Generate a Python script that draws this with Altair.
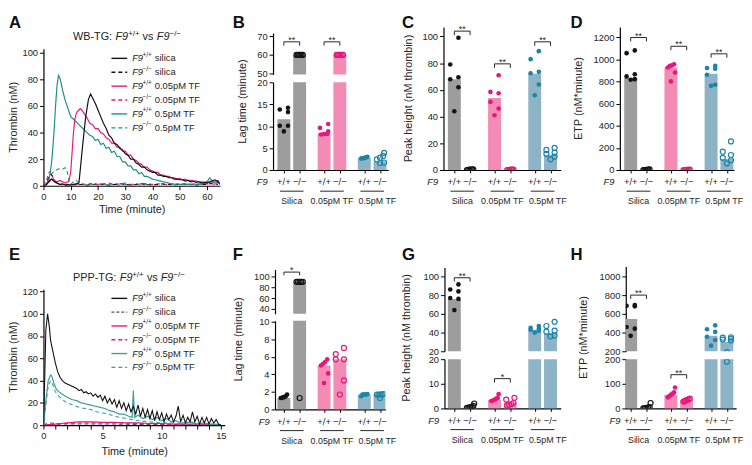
import altair as alt
import pandas as pd

FONT = "Liberation Sans, Arial, Helvetica, sans-serif"
NARROW = "Liberation Sans Narrow, Arial Narrow, Liberation Sans, sans-serif"
TXT = "#262626"

# ---------------- categories / colours ----------------
groups = ["Silica", "0.05pM TF", "0.5pM TF"]
genotypes = ["+/+", "\u2212/\u2212"]
dot_colors = ["#141414", "#e5177d", "#1d84a6"]
bar_colors = ["#9d9d9d", "#f28cb5", "#8db3c7"]
line_black = "#111111"
line_pink = "#e8177f"
line_teal = "#1d8f8b"
line_teal_e = "#3a9d98"
line_gray = "#555555"

# ---------------- A: WB-TG thrombin curves ----------------
A_black_t = [0, 1, 2, 3, 4, 5, 6, 7, 8, 9, 10, 11, 12, 13, 13.5, 14.5, 15.5, 16.5, 17.3,
             18, 19, 20, 21, 22, 23, 24, 25, 26, 27, 28, 29, 30, 31, 32, 33, 34, 35, 36, 37,
             38, 39, 40, 41, 42, 43, 44, 45, 46, 47, 48, 49, 50, 51, 52, 53, 54, 55, 56, 57,
             58, 59, 60, 61, 62, 63, 64, 65]
A_black_v = [0, 0.5, 3, 5, 3, 2, 1, 1.5, 0.5, 1, 0.5, 1, 1.5, 2, 12, 33, 52, 65, 69,
             66, 62, 57, 52, 47, 43, 38, 36, 32, 31, 28, 27, 24, 23, 20, 20, 17, 16, 14, 14,
             12, 11, 10, 10, 8, 8, 7, 7, 6, 6, 5, 5, 4.5, 4.5, 3.5, 4, 3, 3.5, 2.5, 3,
             2, 2.5, 2, 3, 4, 4.5, 3, 0.5]
A_pink_t = [0, 1, 2, 3, 4, 5, 6, 7, 8, 9, 9.5, 10, 10.5, 11, 11.5, 12, 12.5, 13, 13.5, 14,
            15, 16, 17, 18, 19, 20, 21, 22, 23, 24, 25, 26, 27, 28, 29, 30, 31, 32, 33, 34,
            35, 36, 37, 38, 39, 40, 41, 42, 43, 44, 45, 46, 47, 48, 49, 50, 51, 52, 53, 54,
            55, 56, 57, 58, 59, 60, 61, 62, 63, 64, 65]
A_pink_v = [0, 1, 4, 5, 4, 3, 4, 3, 2, 3, 5, 10, 25, 40, 50, 54, 56, 57, 58, 57,
            54, 51, 47, 46, 43, 43, 40, 39, 36, 35, 32, 32, 29, 29, 26, 26, 23, 23, 20, 19,
            17, 16, 14, 14, 12, 11, 10, 10, 8, 8, 7, 7, 6, 6, 5, 5.5, 4.5, 5, 4, 4,
            3.5, 3.5, 3, 3, 2.5, 3, 2.5, 3, 3.5, 4, 1]
A_teal_t = [0, 1, 2, 2.5, 3, 3.5, 4, 4.5, 5, 5.5, 6, 6.5, 7,
            8, 9, 10, 11, 12, 13, 14, 15, 16, 17, 18, 19, 20, 21, 22, 23, 24, 25, 26, 27,
            28, 29, 30, 31, 32, 33, 34, 35, 36, 37, 38, 39, 40, 41, 42, 43, 44, 45, 46, 47,
            48, 49, 50, 51, 52, 53, 54, 55, 56, 57, 58, 59, 60, 61, 62, 63, 64, 65]
A_teal_v = [0, 1, 5, 10, 18, 30, 45, 62, 76, 83, 81, 77, 72,
            64, 58, 52, 50, 48, 46, 44, 42, 40, 38, 37, 34, 35, 31, 32, 28, 29, 25, 26, 22,
            22, 18, 18, 15, 15, 12, 12, 9, 10, 7, 7, 6, 5, 4.5, 4, 3.5, 3, 2.5, 2, 1.5,
            1, 1.5, 1, 1, 1.5, 1, 1, 1.5, 1, 1.5, 1, 2, 3, 6, 3, 2, 2.5, 2]
A_blackdash_t = [0, 1, 1.5, 2, 2.5, 3, 3.5, 4, 5, 6, 8, 10, 12, 14, 16, 18, 20, 22, 24, 26,
                 28, 30, 32, 34, 36, 38, 40, 42, 44, 46, 48, 50, 52, 54, 56, 58, 60, 62, 64]
A_blackdash_v = [0, 1, 4, 7, 9, 8, 6, 4, 2, 1, 0.5, 1, 0.5, 1, 0.5, 1, 1.5, 1, 0.5, 1,
                 1.5, 1, 0.5, 1, 1.5, 1, 0.5, 1, 1.5, 1, 0.5, 1, 1.5, 1, 0.5, 1, 1, 2, 1]
A_pinkdash_t = [0, 1, 1.5, 2, 2.5, 3, 3.5, 4, 5, 6, 7, 8, 10, 12, 14, 16, 18, 20, 22, 24,
                26, 28, 30, 32, 34, 36, 38, 40, 42, 44, 46, 48, 50, 55, 60, 64]
A_pinkdash_v = [0, 3, 7, 10, 11, 9, 6, 4, 2, 1.5, 1, 1, 0.5, 1, 1.5, 1, 2, 1, 1.5, 2,
                1, 1.5, 2, 1, 1.5, 1, 2, 1, 1.5, 1, 1, 1.5, 1, 1, 1.5, 1]
A_tealdash_t = [0, 1, 2, 3, 4, 5, 6, 7, 8, 8.5, 9, 9.5, 10, 11, 12, 13, 14, 16, 18, 20,
                22, 24, 26, 28, 30, 32, 34, 36, 38, 40]
A_tealdash_v = [0, 1, 5, 9, 11, 12, 13, 12.5, 13.5, 12, 8, 3, 1, 3, 4, 2, 1, 0.5, 1, 0.5,
                1, 0.5, 1, 0.5, 1, 0.5, 1, 0.5, 1, 0.5]

# ---------------- E: PPP-TG thrombin curves ----------------
E_black_t = [0, 0.1, 0.2, 0.35, 0.5, 0.6, 0.8,
             1.0, 1.2, 1.4, 1.6, 1.8, 2.0, 2.2, 2.4, 2.6, 2.8, 3.0, 3.2, 3.4, 3.6, 3.8,
             4.0, 4.2, 4.4, 4.6, 4.8, 5.0, 5.2, 5.4, 5.6, 5.8, 6.0, 6.2, 6.4, 6.6, 6.8,
             7.0, 7.2, 7.4, 7.6, 7.8, 8.0, 8.2, 8.4, 8.6, 8.8, 9.0, 9.2, 9.4, 9.6, 9.8,
             10.0, 10.2, 10.4, 10.6, 10.8, 11.0, 11.2, 11.4, 11.6, 11.8, 12.0, 12.2, 12.4,
             12.6, 12.8, 13.0, 13.2, 13.4, 13.6, 13.8, 14.0, 14.2, 14.4, 14.6, 14.8, 15.0]
E_black_v = [0, 40, 85, 100, 88, 76, 66,
             56, 48, 43, 40, 38, 37, 36, 35, 34, 33, 31, 32, 29, 30, 28,
             29, 26, 28, 25, 27, 22, 26, 20, 24, 19, 23, 16, 22, 15, 20,
             13, 19, 12, 17, 10, 18, 8, 15, 7, 14, 6, 13, 4, 12, 5,
             11, 3, 10, 5, 9, 3, 8, 17, 3, 9, 2, 7, 3,
             12, 3, 8, 1, 7, 2, 7, 1, 6, 2, 5, 1, 0]
E_teal_t = [0, 0.2, 0.4, 0.6, 0.7, 0.9, 1.1, 1.4, 1.7, 2.0, 2.4, 2.8, 3.2, 3.6, 4.0, 4.4,
            4.8, 5.2, 5.6, 6.0, 6.4, 6.8, 7.2, 7.5, 7.6, 7.7, 8.0, 8.4, 8.8, 9.2, 9.6, 10.0,
            10.4, 10.8, 11.2, 11.6, 12.0, 12.5, 13.0, 13.5, 14.0, 14.5, 15.0]
E_teal_v = [0, 22, 40, 45, 44, 37, 32, 29, 27, 25, 23, 22, 20, 19, 18, 17,
            16, 15, 13, 12, 10, 10, 8, 7, 31, 7, 9, 6, 8, 5, 7, 4,
            6, 3, 4, 2, 2, 3, 1, 2, 1, 1, 0]
E_tealdash_t = [0, 0.2, 0.4, 0.6, 0.8, 1.0, 1.3, 1.6, 2.0, 2.5, 3.0, 3.5, 4.0, 4.5, 5.0,
                5.5, 6.0, 6.5, 7.0, 7.5, 8.0, 9.0, 10.0, 11.0, 12.0, 13.0, 14.0, 15.0]
E_tealdash_v = [0, 18, 35, 40, 36, 30, 26, 23, 20, 18, 16, 15, 14, 12, 11,
                10, 8, 7, 6, 5, 4, 3, 2, 2, 1, 1, 1, 0]
E_pink_t = [0, 0.5, 1, 1.5, 2, 2.5, 3, 3.5, 4, 5, 6, 7, 8, 9, 10, 11, 12, 13, 14, 15]
E_pink_v = [0, 0.5, 1, 1.5, 2, 2.5, 3, 3, 3, 2.5, 2.5, 2, 2, 1.5, 1.5, 1, 1, 1, 0.5, 0.5]
E_pinkdash_t = [0, 1, 2, 3, 4, 5, 6, 8, 10, 12, 15]
E_pinkdash_v = [0, 0.5, 1.5, 2, 2, 2, 2, 1.5, 1, 0.5, 0.5]
E_blackdash_t = [0, 0.3, 0.6, 1, 2, 3, 4, 5, 6, 8, 10, 12, 15]
E_blackdash_v = [0, 1.5, 2, 1.5, 1, 1, 1, 1, 1, 0.5, 0.5, 0.5, 0.5]

# ---------------- bar panels (order: Silica +/+, Silica -/-, 0.05 +/+, 0.05 -/-, 0.5 +/+, 0.5 -/-) ----
B_bar = [11.6, 60, 8.3, 60, 2.8, 2.0]
B_dots = [[14.2, 13.8, 13.2, 10.1, 10.1, 8.8], [60, 60, 60, 60, 60, 60],
          [10.5, 9.6, 8.8, 8.2, 8.2, 8.1], [60, 60, 60, 60, 60, 60],
          [3.0, 2.9, 2.8, 2.7, 2.7, 2.6], [3.9, 3.2, 2.8, 2.4, 1.7, 1.6]]
C_bar = [68, 0, 54, 0, 72, 11.5]
C_dots = [[99, 79, 69.5, 68, 62, 44], [0.5, 0.3, 0.2, 0.2, 0.1, 0],
          [71, 58.5, 57.5, 51, 46, 41], [0.3, 0.2, 0.2, 0.1, 0.1, 0],
          [89, 83, 73.5, 72.5, 64, 56], [16.5, 15, 13, 12, 10, 8]]
D_bar = [830, 0, 925, 0, 870, 100]
D_dots = [[1080, 1055, 865, 845, 820, 815], [5, 3, 2, 1, 0, 0],
          [955, 945, 940, 925, 880, 800], [3, 2, 1, 1, 0, 0],
          [940, 920, 915, 860, 770, 760], [258, 165, 135, 110, 88, 60]]
F_bar = [1.3, 90, 5.0, 5.7, 1.7, 1.7]
F_dots = [[1.7, 1.5, 1.4, 1.4, 1.3, 1.3], [90, 90, 90, 90, 90, 1.3],
          [5.7, 5.4, 5.2, 5.0, 4.1, 3.0], [7.0, 6.3, 5.7, 5.7, 3.3, 1.7],
          [1.75, 1.7, 1.7, 1.7, 1.7, 1.5], [1.75, 1.7, 1.7, 1.7, 1.7, 1.3]]
G_bar = [76, 0.5, 3.5, 2.3, 43, 39]
G_dots = [[91.5, 86, 84, 77, 76, 64], [2.0, 1.0, 0.6, 0.4, 0.3, 0.2],
          [5.8, 4.2, 4.0, 3.5, 3.2, 3.0], [4.3, 3.6, 2.2, 1.8, 1.5, 1.2],
          [47, 45, 44, 43, 42, 40], [51.5, 47, 42, 41, 37, 36]]
H_bar = [545, 3, 55, 33, 365, 300]
H_dots = [[695, 685, 680, 460, 442, 365], [22, 5, 3, 2, 1, 0],
          [85, 65, 60, 55, 50, 45], [40, 37, 35, 33, 30, 28],
          [477, 435, 407, 355, 320, 260], [350, 345, 335, 325, 315, 190]]

# ---------------- helpers ----------------
ONE = pd.DataFrame({"k": [0]})
PX = 16.0
GROUP_STEP = 2.55
HALF_BAR = 0.41
JITTER = [0.26, -0.26, 0.26, -0.26, 0.26, 0.0]
SPREAD = 0.2


def pos(g, j):
    return g * GROUP_STEP + j


TICK_POS = [pos(g, j) for g in range(3) for j in range(2)]


def offsets(vals, tol):
    """horizontal scatter of the dots inside one bar: tight clusters are spread evenly"""
    offs = [JITTER[i % len(JITTER)] for i in range(len(vals))]
    order = sorted(range(len(vals)), key=lambda i: vals[i])
    clusters, cur = [], [order[0]]
    for i in order[1:]:
        if abs(vals[i] - vals[cur[-1]]) <= tol:
            cur.append(i)
        else:
            clusters.append(cur)
            cur = [i]
    clusters.append(cur)
    for cl in clusters:
        n = len(cl)
        if n >= 3:
            for r, i in enumerate(cl):
                offs[i] = -SPREAD + 2 * SPREAD * r / (n - 1)
    return offs


def text_chart(s, x, y, size=9.5, style="normal", weight="normal", font=FONT,
               align="left", baseline="alphabetic", angle=0, color=TXT):
    mk = dict(text=s, fontSize=size, fontStyle=style, fontWeight=weight, font=font,
              align=align, baseline=baseline, color=color)
    if angle:
        mk["angle"] = angle
    return alt.Chart(ONE).mark_text(**mk).encode(x=alt.value(x), y=alt.value(y))


def letter(s, x, y):
    return text_chart(s, x, y, size=17, weight="bold", baseline="top", color="#111111")


def ytitle(s, x, y):
    return text_chart(s, x, y, size=11, font=NARROW, align="center", baseline="middle", angle=270)


def frame_rect(x1, x2, y1, y2):
    return alt.Chart(ONE).mark_rect(opacity=0).encode(
        x=alt.value(x1), x2=alt.value(x2), y=alt.value(y1), y2=alt.value(y2))


def bar_part(bars, dots, lo, hi, width, height, offset, yticks, frame, tol,
             brackets=(), drop=1.0, bottom=False, extra=()):
    xsc = alt.Scale(domain=[-offset / PX, (width - offset) / PX], nice=False, zero=False)
    ysc = alt.Scale(domain=[lo, hi], nice=False, zero=False)
    if bottom:
        xaxis = alt.Axis(values=TICK_POS, labels=False, ticks=True, tickSize=3,
                         domain=True, grid=False, title=None)
    else:
        xaxis = None
    yaxis = alt.Axis(values=yticks, title=None, grid=False, tickSize=4, labelPadding=2, format="d")
    X = alt.X("x:Q", scale=xsc, axis=xaxis)
    Y = alt.Y("y:Q", scale=ysc, axis=yaxis)

    brows = []
    for k, v in enumerate(bars):
        g, j = divmod(k, 2)
        p = pos(g, j)
        brows.append({"x": p - HALF_BAR, "x2": p + HALF_BAR, "y": v, "y0": 0.0, "c": bar_colors[g]})
    drows = []
    for k, vals in enumerate(dots):
        g, j = divmod(k, 2)
        offs = offsets(vals, tol)
        for i, v in enumerate(vals):
            drows.append({"x": pos(g, j) + offs[i], "y": v, "c": dot_colors[g], "geno": j})
    ddf = pd.DataFrame(drows)

    layers = [frame_rect(*frame)]
    layers.append(alt.Chart(pd.DataFrame(brows)).mark_bar(clip=True).encode(
        x=X, x2="x2:Q", y=Y, y2="y0:Q", color=alt.Color("c:N", scale=None)))
    layers.append(alt.Chart(ddf[ddf.geno == 0]).mark_circle(size=22, opacity=1, clip=True).encode(
        x=X, y=Y, color=alt.Color("c:N", scale=None)))
    layers.append(alt.Chart(ddf[ddf.geno == 1]).mark_point(
        filled=False, size=26, strokeWidth=1.2, opacity=1, clip=True).encode(
        x=X, y=Y, color=alt.Color("c:N", scale=None)))

    if brackets:
        rows, stars = [], []
        for b, (g, level, s) in enumerate(brackets):
            xa, xb = pos(g, 0), pos(g, 1)
            pts = [(xa, level - drop), (xa, level), (xb, level), (xb, level - drop)]
            for o, (x, y) in enumerate(pts):
                rows.append({"x": x, "y": y, "id": b, "o": o})
            stars.append({"x": (xa + xb) / 2, "y": level, "s": s})
        layers.append(alt.Chart(pd.DataFrame(rows)).mark_line(color=TXT, strokeWidth=1).encode(
            x=X, y=Y, detail="id:N", order="o:Q"))
        layers.append(alt.Chart(pd.DataFrame(stars)).mark_text(
            fontSize=9, baseline="alphabetic", dy=1, color=TXT, font=FONT).encode(
            x=X, y=Y, text="s:N"))

    if bottom:
        gl = pd.DataFrame({"x": TICK_POS, "t": genotypes * 3})
        layers.append(alt.Chart(gl).mark_text(fontSize=9.5, baseline="middle", color=TXT, font=FONT).encode(
            x=X, y=alt.value(height + 12.5), text="t:N"))
        layers.append(text_chart("F9", -11, height + 12.5, style="italic", align="center", baseline="middle"))
        ul = pd.DataFrame({"x": [pos(g, 0) - 0.25 for g in range(3)],
                           "x2": [pos(g, 1) + 0.25 for g in range(3)]})
        layers.append(alt.Chart(ul).mark_rule(color=TXT, strokeWidth=1).encode(
            x=X, x2="x2:Q", y=alt.value(height + 21.5)))
        label_shift = [0.0, 0.0, 0.33]
        gdf = pd.DataFrame({"x": [(pos(g, 0) + pos(g, 1)) / 2 + label_shift[g] for g in range(3)],
                            "t": groups})
        layers.append(alt.Chart(gdf).mark_text(fontSize=9, baseline="middle", color=TXT, font=FONT).encode(
            x=X, y=alt.value(height + 32), text="t:N"))
    layers.extend(extra)
    return alt.layer(*layers).properties(width=width, height=height)


def ts_panel(curves, xdom, ydom, width, height, xvals, yvals, xlabel_expr, xtitle_pad,
             legend, legend_y0, legend_step, title_pieces, title_y, frame, extra):
    xsc = alt.Scale(domain=xdom, nice=False, zero=False)
    ysc = alt.Scale(domain=ydom, nice=False, zero=False)
    xaxis_kw = dict(values=xvals, title="Time (minute)", grid=False, tickSize=4,
                    titlePadding=xtitle_pad, labelPadding=2, labelFlush=False, format="d")
    if xlabel_expr:
        xaxis_kw["labelExpr"] = xlabel_expr
    xaxis = alt.Axis(**xaxis_kw)
    yaxis = alt.Axis(values=yvals, title=None, grid=False, tickSize=4, labelPadding=2, format="d")
    layers = [frame_rect(*frame)]
    for t, v, color, dash, sw in curves:
        mk = dict(color=color, strokeWidth=sw, clip=True)
        if dash:
            mk["strokeDash"] = dash
        layers.append(alt.Chart(pd.DataFrame({"t": t, "v": v})).mark_line(**mk).encode(
            x=alt.X("t:Q", scale=xsc, axis=xaxis), y=alt.Y("v:Q", scale=ysc, axis=yaxis)))
    for i, (sup, rest, color, dash) in enumerate(legend):
        y = legend_y0 + i * legend_step
        rk = dict(color=color, strokeWidth=1.4)
        if dash:
            rk["strokeDash"] = dash
        layers.append(alt.Chart(ONE).mark_rule(**rk).encode(
            x=alt.value(69), x2=alt.value(85), y=alt.value(y)))
        layers.append(text_chart("F9", 90, y, size=9.5, style="italic", baseline="middle"))
        layers.append(text_chart(sup, 100.5, y - 3.5, size=6.5, baseline="middle"))
        layers.append(text_chart(rest, 113, y, size=9.5, baseline="middle"))
    for s, x, size, style, dy in title_pieces:
        layers.append(text_chart(s, x, title_y + dy, size=size, style=style, color="#222222"))
    layers.extend(extra)
    return alt.layer(*layers).properties(width=width, height=height)


def cell(width, header_h, fx, bodies, spacing):
    """panel column: an invisible header fixes where the plot starts below the row top"""
    header = frame_rect(fx[0], fx[1], 0, header_h).properties(width=width, height=header_h)
    return alt.vconcat(header, *bodies, spacing=spacing, bounds="flush")


PLUS = "+/+"
MINUS = "\u2212/\u2212"
DASH = [4, 3]

# ---------------- Row 1 (row top = page y 8) ----------------
A = ts_panel(
    curves=[(A_tealdash_t, A_tealdash_v, line_teal, DASH, 1.1),
            (A_pinkdash_t, A_pinkdash_v, line_pink, DASH, 1.1),
            (A_blackdash_t, A_blackdash_v, line_black, DASH, 1.1),
            (A_teal_t, A_teal_v, line_teal, None, 1.2),
            (A_pink_t, A_pink_v, line_pink, None, 1.2),
            (A_black_t, A_black_v, line_black, None, 1.2)],
    xdom=[0, 64.7], ydom=[0, 103], width=179, height=139,
    xvals=[0, 10, 20, 30, 40, 50, 60], yvals=[0, 20, 40, 60, 80, 100],
    xlabel_expr=None, xtitle_pad=3,
    legend=[(PLUS, "silica", line_black, None), (MINUS, "silica", line_black, DASH),
            (PLUS, "0.05pM TF", line_pink, None), (MINUS, "0.05pM TF", line_pink, DASH),
            (PLUS, "0.5pM TF", line_teal, None), (MINUS, "0.5pM TF", line_teal, DASH)],
    legend_y0=9.7, legend_step=14.1,
    title_pieces=[("WB-TG:", 30, 11, "normal", 0), ("F9", 73, 11, "italic", 0),
                  (PLUS, 86, 8, "normal", -4), ("vs", 100.5, 11, "normal", 0),
                  ("F9", 115, 11, "italic", 0), (MINUS, 128, 8, "normal", -4)],
    title_y=-9, frame=(-35, 189, 0, 194),
    extra=[letter("A", -35, -34), ytitle("Thrombin (nM)", -29.5, 69.5)])

B_top = bar_part(B_bar, B_dots, 49.6, 71.7, 117, 42, 11, [50, 60, 70], frame=(-44, 128, 0, 42),
                 tol=0.6, brackets=[(0, 67, "**"), (1, 67, "**")], drop=2.0,
                 extra=[letter("B", -41, -18)])
B_bot = bar_part(B_bar, B_dots, 0, 20, 117, 89, 11, [0, 5, 10, 15, 20], frame=(-44, 128, 0, 160),
                 tol=0.6, bottom=True, extra=[ytitle("Lag time (minute)", -30, 19.5)])

C = bar_part(C_bar, C_dots, 0, 107, 119, 145, 11, [0, 20, 40, 60, 80, 100], frame=(-45, 125, 0, 216),
             tol=1.5, brackets=[(0, 104, "**"), (1, 79.5, "**"), (2, 96, "**")], drop=3, bottom=True,
             extra=[letter("C", -42, -12), ytitle("Peak height (nM thrombin)", -35, 72.5)])

D = bar_part(D_bar, D_dots, 0, 1290, 116, 145, 11, [0, 200, 400, 600, 800, 1000, 1200],
             frame=(-53, 125, 0, 216), tol=15,
             brackets=[(0, 1196, "**"), (1, 1117, "**"), (2, 1049, "**")], drop=35, bottom=True,
             extra=[letter("D", -50, -12), ytitle("ETP (nM*minute)", -41, 72.5)])

# ---------------- Row 2 (row top = page y 240) ----------------
E = ts_panel(
    curves=[(E_blackdash_t, E_blackdash_v, line_gray, DASH, 1.1),
            (E_pinkdash_t, E_pinkdash_v, line_pink, DASH, 1.1),
            (E_pink_t, E_pink_v, line_pink, None, 1.2),
            (E_tealdash_t, E_tealdash_v, line_teal_e, DASH, 1.1),
            (E_teal_t, E_teal_v, line_teal_e, None, 1.2),
            (E_black_t, E_black_v, line_black, None, 1.1)],
    xdom=[0, 15.33], ydom=[0, 122], width=184, height=138,
    xvals=list(range(16)), yvals=[0, 20, 40, 60, 80, 100, 120],
    xlabel_expr="datum.value % 5 === 0 ? datum.label : ''", xtitle_pad=5,
    legend=[(PLUS, "silica", line_black, None), (MINUS, "silica", line_gray, [3, 2]),
            (PLUS, "0.05pM TF", line_pink, None), (MINUS, "0.05pM TF", line_pink, DASH),
            (PLUS, "0.5pM TF", line_teal_e, None), (MINUS, "0.5pM TF", line_teal_e, DASH)],
    legend_y0=9.3, legend_step=14,
    title_pieces=[("PPP-TG:", 30, 11, "normal", 0), ("F9", 77.5, 11, "italic", 0),
                  (PLUS, 90, 8, "normal", -4), ("vs", 105, 11, "normal", 0),
                  ("F9", 119, 11, "italic", 0), (MINUS, 132, 8, "normal", -4)],
    title_y=-8, frame=(-35, 189, 0, 175),
    extra=[letter("E", -35, -43), ytitle("Thrombin (nM)", -29.5, 69)])

F_top = bar_part(F_bar, F_dots, 31, 112.8, 112, 45, 9, [40, 60, 80, 100], frame=(-46, 126, 0, 45),
                 tol=0.3, brackets=[(0, 108, "*")], drop=6, extra=[letter("F", -43, -23)])
F_bot = bar_part(F_bar, F_dots, 0, 10.1, 112, 90, 9, [0, 2, 4, 6, 8, 10], frame=(-46, 126, 0, 143),
                 tol=0.3, bottom=True, extra=[ytitle("Lag time (minute)", -37, 19)])

G_top = bar_part(G_bar, G_dots, 20, 109.5, 118, 85, 10, [20, 40, 60, 80, 100], frame=(-46, 124, 0, 85),
                 tol=0.8, brackets=[(0, 98.6, "**")], drop=4, extra=[letter("G", -43, -21)])
G_bot = bar_part(G_bar, G_dots, 0, 20, 118, 50, 10, [0, 10, 20], frame=(-46, 124, 0, 104),
                 tol=0.8, brackets=[(1, 12.1, "*")], drop=1.6, bottom=True,
                 extra=[ytitle("Peak height (nM thrombin)", -38, -21.5)])

H_top = bar_part(H_bar, H_dots, 200, 1105, 112, 86, 5, [200, 400, 600, 800, 1000],
                 frame=(-59, 119, 0, 86), tol=6, brackets=[(0, 800, "**")], drop=40,
                 extra=[letter("H", -56, -20)])
H_bot = bar_part(H_bar, H_dots, 0, 200, 112, 50, 5, [0, 100, 200], frame=(-59, 119, 0, 104),
                 tol=6, brackets=[(1, 137, "**")], drop=16, bottom=True,
                 extra=[ytitle("ETP (nM*minute)", -42, -22)])

row1 = alt.hconcat(
    cell(179, 38, (-35, 189), [A], 0),
    cell(117, 14, (-44, 128), [B_top, B_bot], 8),
    cell(119, 16, (-45, 125), [C], 0),
    cell(116, 16, (-53, 125), [D], 0),
    spacing=0)
row2 = alt.hconcat(
    cell(184, 50, (-35, 189), [E], 0),
    cell(112, 23, (-46, 126), [F_top, F_bot], 7),
    cell(118, 20, (-46, 124), [G_top, G_bot], 8),
    cell(112, 19, (-59, 119), [H_top, H_bot], 8),
    spacing=0)

chart = alt.vconcat(row1, row2, spacing=0).properties(
    padding={"left": 0, "right": 0, "top": 0, "bottom": 0}
).configure_view(stroke=None).configure_axis(
    domainColor="#000000", domainWidth=1.2, tickColor="#000000", tickWidth=1,
    labelFont=FONT, labelFontSize=9.5, labelColor=TXT,
    titleFont=NARROW, titleFontSize=11, titleColor=TXT, titleFontWeight="normal", grid=False)

chart.save("out.html", embed_options={"renderer": "svg", "actions": False})
